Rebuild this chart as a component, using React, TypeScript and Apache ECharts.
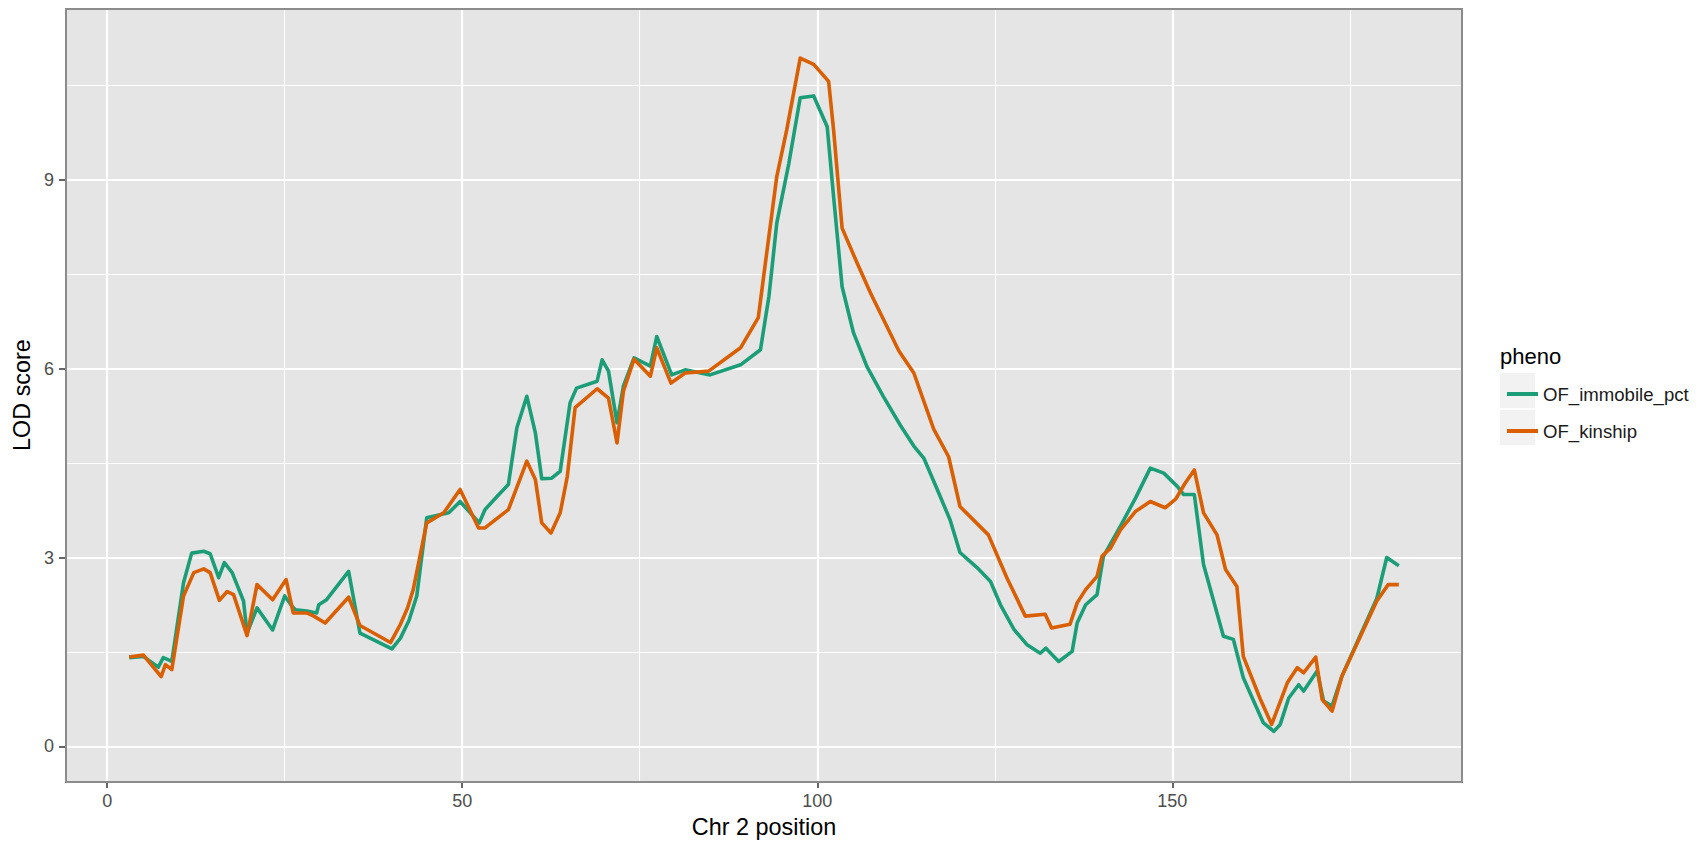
import React, { useEffect, useRef } from "react";
import * as echarts from "echarts";

const IMMOBILE_POS = [3.1, 5.1, 7.2, 7.9, 9.1, 10.75, 11.9, 13.6, 14.5, 15.7, 16.5, 17.6, 19.2, 19.7, 21.1, 23.3, 25.0, 26.0, 26.5, 28.1, 29.5, 29.8, 30.9, 34.0, 35.6, 40.1, 41.3, 42.5, 43.6, 45.0, 48.1, 49.7, 52.4, 53.2, 54.9, 56.5, 57.7, 59.1, 60.3, 61.2, 62.6, 63.8, 65.2, 66.1, 69.0, 69.7, 70.6, 71.8, 72.7, 74.2, 76.5, 77.4, 79.5, 81.4, 84.9, 89.2, 92.0, 93.2, 94.3, 96.0, 97.6, 99.5, 101.4, 102.3, 103.5, 105.1, 107.0, 109.3, 111.7, 113.6, 115.0, 116.9, 118.7, 120.1, 122.5, 124.4, 125.8, 127.7, 129.5, 131.4, 132.2, 134.0, 135.9, 136.6, 137.8, 139.4, 140.3, 142.7, 144.8, 146.9, 148.8, 150.7, 151.6, 153.1, 154.4, 157.2, 158.6, 160.0, 162.8, 164.3, 165.2, 166.4, 167.8, 168.5, 170.4, 171.3, 172.5, 173.9, 178.8, 180.2, 181.9];
const IMMOBILE_LOD = [1.41, 1.43, 1.26, 1.41, 1.35, 2.6, 3.07, 3.1, 3.06, 2.68, 2.92, 2.76, 2.31, 1.8, 2.2, 1.85, 2.39, 2.23, 2.17, 2.15, 2.12, 2.25, 2.33, 2.78, 1.8, 1.55, 1.72, 2.0, 2.39, 3.63, 3.71, 3.89, 3.55, 3.76, 3.97, 4.16, 5.06, 5.56, 4.98, 4.25, 4.26, 4.37, 5.46, 5.69, 5.8, 6.14, 5.96, 5.14, 5.72, 6.17, 6.04, 6.51, 5.9, 5.98, 5.9, 6.06, 6.3, 7.15, 8.31, 9.26, 10.3, 10.33, 9.84, 8.73, 7.3, 6.57, 6.03, 5.56, 5.1, 4.77, 4.58, 4.08, 3.6, 3.08, 2.84, 2.62, 2.25, 1.86, 1.62, 1.48, 1.56, 1.35, 1.51, 1.96, 2.25, 2.41, 3.02, 3.5, 3.94, 4.42, 4.34, 4.13, 4.0, 4.0, 2.89, 1.75, 1.7, 1.09, 0.38, 0.24, 0.35, 0.77, 0.98, 0.88, 1.2, 0.72, 0.64, 1.12, 2.35, 3.0, 2.87];

const KINSHIP_POS = [3.1, 5.1, 6.5, 7.6, 8.2, 9.1, 10.75, 12.2, 13.6, 14.5, 15.8, 16.9, 17.8, 19.7, 21.1, 23.3, 25.2, 26.2, 28.1, 29.1, 30.7, 34.0, 35.6, 39.9, 41.3, 42.3, 43.1, 45.0, 47.4, 49.7, 52.3, 53.2, 56.5, 59.1, 60.3, 61.2, 62.5, 63.8, 64.8, 65.9, 69.0, 70.6, 71.8, 72.7, 74.2, 76.5, 77.4, 79.4, 81.4, 84.7, 89.2, 91.7, 92.7, 94.3, 95.7, 97.6, 99.5, 101.6, 102.3, 103.5, 105.6, 107.5, 111.5, 113.6, 116.4, 118.5, 120.1, 124.1, 126.7, 129.3, 132.1, 133.0, 135.6, 136.6, 137.8, 139.4, 140.1, 141.3, 142.7, 144.8, 146.9, 149.0, 150.5, 151.8, 153.1, 154.4, 156.3, 157.5, 159.1, 160.0, 162.4, 164.0, 166.2, 167.6, 168.5, 170.2, 171.1, 172.5, 173.9, 178.8, 180.4, 181.9];
const KINSHIP_LOD = [1.42, 1.45, 1.26, 1.11, 1.3, 1.22, 2.39, 2.76, 2.82, 2.76, 2.32, 2.46, 2.41, 1.76, 2.57, 2.33, 2.65, 2.12, 2.12, 2.07, 1.96, 2.37, 1.92, 1.65, 1.94, 2.2, 2.49, 3.55, 3.71, 4.08, 3.47, 3.47, 3.76, 4.53, 4.24, 3.55, 3.39, 3.71, 4.29, 5.38, 5.68, 5.53, 4.82, 5.64, 6.15, 5.88, 6.33, 5.77, 5.93, 5.96, 6.33, 6.81, 7.68, 9.05, 9.79, 10.93, 10.83, 10.56, 9.79, 8.23, 7.68, 7.2, 6.28, 5.93, 5.04, 4.6, 3.81, 3.36, 2.68, 2.07, 2.1, 1.88, 1.94, 2.28, 2.49, 2.7, 3.02, 3.15, 3.44, 3.73, 3.89, 3.79, 3.93, 4.18, 4.39, 3.71, 3.36, 2.81, 2.54, 1.43, 0.75, 0.35, 1.01, 1.25, 1.17, 1.42, 0.75, 0.56, 1.12, 2.31, 2.57, 2.57];

const SERIES_NAMES = ["OF_immobile_pct", "OF_kinship"];
const SERIES_COLORS = ["#1B9E77", "#D95F02"];
const X_TICKS = [0, 50, 100, 150];
const Y_TICKS = [0, 3, 6, 9];
const X_RANGE = [-5.8, 190.8];
const Y_RANGE = [-0.55, 11.71];

const FONT = "'Liberation Sans', Arial, Helvetica, sans-serif";

function zip(xs: number[], ys: number[]) {
  return xs.map((x, i) => [x, ys[i]]);
}

export default function App() {
  const ref = useRef<HTMLDivElement>(null);

  useEffect(() => {
    if (!ref.current) return;
    const chart = echarts.init(ref.current, null, { renderer: "svg" });

    const gridLeft = 66;
    const gridTop = 9;
    const gridRight = 239;
    const gridBottom = 61;
    const W = 1701;
    const H = 843;

    const axisCommon = {
      type: "value" as const,
      axisLine: { show: false, onZero: false },
      axisTick: { show: true, length: 7, lineStyle: { color: "#333333", width: 1.5 } },
      splitLine: { show: true, lineStyle: { color: "#FFFFFF", width: 2.2 } },
      minorTick: { show: false, splitNumber: 2 },
      minorSplitLine: { show: true, lineStyle: { color: "#FFFFFF", width: 1.1 } },
      nameLocation: "middle" as const,
      nameTextStyle: { fontFamily: FONT, fontSize: 23.4, color: "#000000" },
    };

    chart.setOption({
      animation: false,
      backgroundColor: "#FFFFFF",
      grid: {
        left: gridLeft,
        top: gridTop,
        right: gridRight,
        bottom: gridBottom,
        show: true,
        backgroundColor: "#E5E5E5",
        borderWidth: 0,
      },
      xAxis: {
        ...axisCommon,
        min: X_RANGE[0],
        max: X_RANGE[1],
        splitNumber: 4,
        name: "Chr 2 position",
        nameGap: 33,
        axisTick: { ...axisCommon.axisTick, customValues: X_TICKS },
        axisLabel: {
          customValues: X_TICKS,
          margin: 11,
          fontFamily: FONT,
          fontSize: 18,
          color: "#4D4D4D",
        },
      },
      yAxis: {
        ...axisCommon,
        min: Y_RANGE[0],
        max: Y_RANGE[1],
        splitNumber: 4,
        name: "LOD score",
        nameGap: 28,
        nameRotate: 90,
        axisTick: { ...axisCommon.axisTick, customValues: Y_TICKS },
        axisLabel: {
          customValues: Y_TICKS,
          margin: 12,
          fontFamily: FONT,
          fontSize: 18,
          color: "#4D4D4D",
        },
      },
      legend: {
        orient: "vertical",
        left: 1502,
        top: 379,
        itemWidth: 31,
        itemHeight: 4,
        itemGap: 17,
        icon: "rect",
        data: SERIES_NAMES,
        textStyle: { fontFamily: FONT, fontSize: 18.6, color: "#1A1A1A", lineHeight: 20 },
      },
      graphic: [
        {
          type: "rect",
          z: -1,
          shape: { x: 1500, y: 373, width: 35, height: 35 },
          style: { fill: "#F2F2F2" },
        },
        {
          type: "rect",
          z: -1,
          shape: { x: 1500, y: 410, width: 35, height: 35 },
          style: { fill: "#F2F2F2" },
        },
        {
          type: "text",
          left: 1500,
          top: 345,
          style: { text: "pheno", fontFamily: FONT, fontSize: 22, fill: "#000000" },
        },
        {
          type: "rect",
          z: 100,
          silent: true,
          shape: { x: gridLeft, y: gridTop, width: W - gridLeft - gridRight, height: H - gridTop - gridBottom },
          style: { fill: "none", stroke: "#8C8C8C", lineWidth: 2 },
        },
      ],
      series: [
        {
          name: SERIES_NAMES[0],
          type: "line",
          data: zip(IMMOBILE_POS, IMMOBILE_LOD),
          symbol: "none",
          showSymbol: false,
          color: SERIES_COLORS[0],
          lineStyle: { width: 3.6, color: SERIES_COLORS[0], join: "round" },
          z: 3,
        },
        {
          name: SERIES_NAMES[1],
          type: "line",
          data: zip(KINSHIP_POS, KINSHIP_LOD),
          symbol: "none",
          showSymbol: false,
          color: SERIES_COLORS[1],
          lineStyle: { width: 3.6, color: SERIES_COLORS[1], join: "round" },
          z: 4,
        },
      ],
    });

    return () => chart.dispose();
  }, []);

  return (
    <div
      ref={ref}
      style={{ position: "fixed", left: 0, top: 0, width: 1701, height: 843 }}
    />
  );
}
